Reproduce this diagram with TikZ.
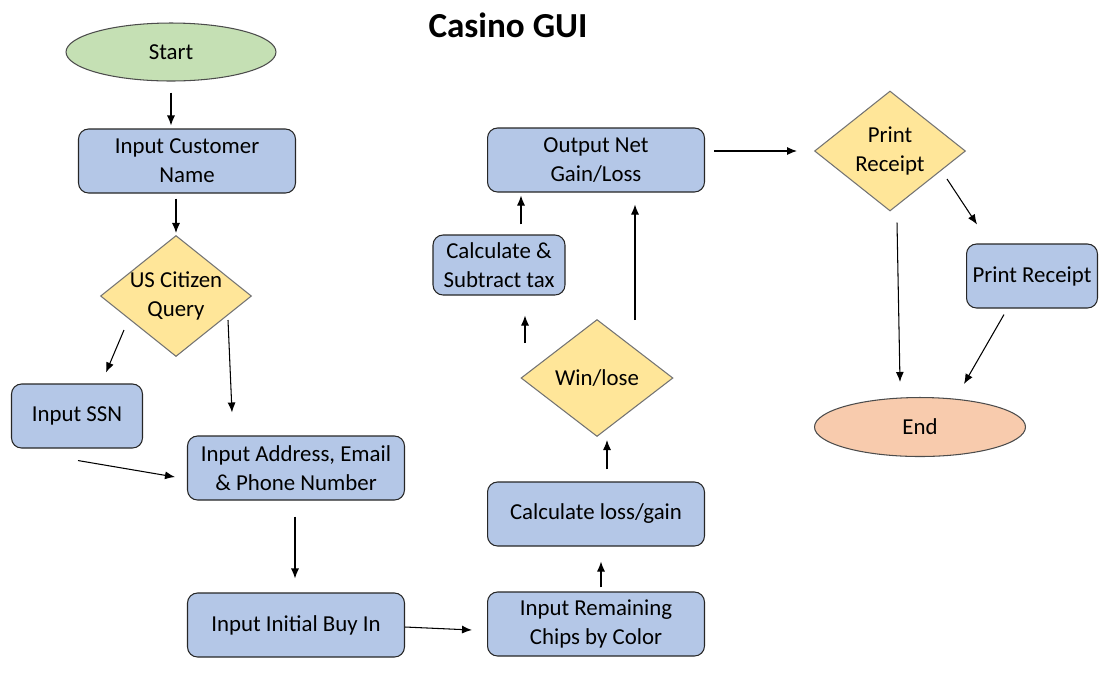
\documentclass[tikz,border=0pt]{standalone}
\usepackage{fontspec}
\setmainfont{Carlito}
\usepackage{tikz}
\usepackage{xcolor}
\usetikzlibrary{arrows,arrows.meta,shapes,positioning,calc}

\definecolor{procblue}{HTML}{B4C7E7}
\definecolor{startgreen}{HTML}{C5E0B4}
\definecolor{queryyellow}{HTML}{FFE699}
\definecolor{endsalmon}{HTML}{F8CBAD}

\tikzset{
  proc/.style={shape=rectangle,rounded corners=0.2cm,draw=black!85,fill=procblue,
    minimum width=4.34cm,minimum height=1.28cm,align=center,line width=0.6pt},
  query/.style={shape=diamond,draw=black!55,fill=queryyellow,minimum width=3.02cm,
    minimum height=2.42cm,inner sep=0pt,line width=0.6pt,
    label={[align=center]center:#1}},
  terminal/.style={shape=ellipse,draw=black!70,minimum width=4.2cm,minimum height=1.16cm,
    line width=0.6pt}
}

\begin{document}
\begin{tikzpicture}[x=0.02cm,y=-0.02cm,>={Latex[length=2mm,width=1.6mm]},
  font=\fontsize{13}{16.5}\selectfont,line width=0.6pt]
\useasboundingbox (0,0) rectangle (1111,674);
\node[font=\bfseries\fontsize{20}{24}\selectfont](Title) at (508,25) {Casino GUI};
% left column
\node[terminal,fill=startgreen](Start) at (171,52) {Start};
\node[proc](Name) at (187,161) {Input Customer\\Name};
\node[query={US Citizen\\Query}](Citizen) at (176,296) {};
\node[proc,minimum width=2.62cm](SSN) at (77,416) {Input SSN};
\node[proc](Address) at (296,468) {Input Address, Email\\\& Phone Number};
\node[proc](BuyIn) at (296,625) {Input Initial Buy In};
% middle column
\node[proc](Chips) at (596,624) {Input Remaining\\Chips by Color};
\node[proc](Calc) at (596,514) {Calculate loss/gain};
\node[query={Win/lose},minimum width=3.04cm,minimum height=2.34cm](Win) at (597,378) {};
\node[proc,minimum width=2.64cm,minimum height=1.2cm,inner sep=1pt](Tax) at (499,265) {Calculate \&\\Subtract tax};
\node[proc](Output) at (596,160) {Output Net\\Gain/Loss};
% right column
\node[query={Print\\Receipt},minimum height=2.4cm](Print) at (890,151) {};
\node[proc,minimum width=2.62cm,inner sep=1pt](Receipt) at (1032,276) {Print Receipt};
\node[terminal,fill=endsalmon,minimum width=4.22cm,minimum height=1.18cm](End) at (920,427) {End};

\path[->] ($(Start.south)+(0,11)$) edge ($(Name.north)+(-16,-3)$);
\path[->] ($(Name.south)+(-11,5)$) edge ($(Citizen.north)+(0,-2)$);
\path[->] ($(Citizen)+(-52,34)$) edge ($(SSN.north)+(29,-11)$);
\path[->] ($(Citizen)+(52,24)$) edge ($(Address.north)+(-64,-23)$);
\path[->] ($(SSN.south)+(1,12)$) edge ($(Address.west)+(-12,9)$);
\path[->] ($(Address.south)+(-1,16)$) edge ($(BuyIn.north)+(-1,-14)$);
\path[->] ($(BuyIn.east)+(0,2)$) edge ($(Chips.west)+(-15,6)$);
\path[->] ($(Chips.north)+(5,-4)$) edge ($(Calc.south)+(5,15)$);
\path[->] ($(Calc.north)+(11,-12)$) edge ($(Win.south)+(10,3)$);
\path[->] ($(Win)+(-72,-35)$) edge ($(Tax.south)+(26,20)$);
\path[->] ($(Tax.north)+(22,-10)$) edge ($(Output.south)+(-75,3)$);
\path[->] ($(Win)+(38,-58)$) edge ($(Output.south)+(39,12)$);
\path[->] ($(Output.east)+(9,-9)$) edge ($(Print.west)+(-17,0)$);
\path[->] ($(Print)+(57,28)$) edge ($(Receipt.north)+(-55,-19)$);
\path[->] ($(Print.south)+(7,11)$) edge ($(End.north)+(-20,-15)$);
\path[->] ($(Receipt.south)+(-28,6)$) edge ($(End.north)+(44,-13)$);
\end{tikzpicture}
\end{document}
